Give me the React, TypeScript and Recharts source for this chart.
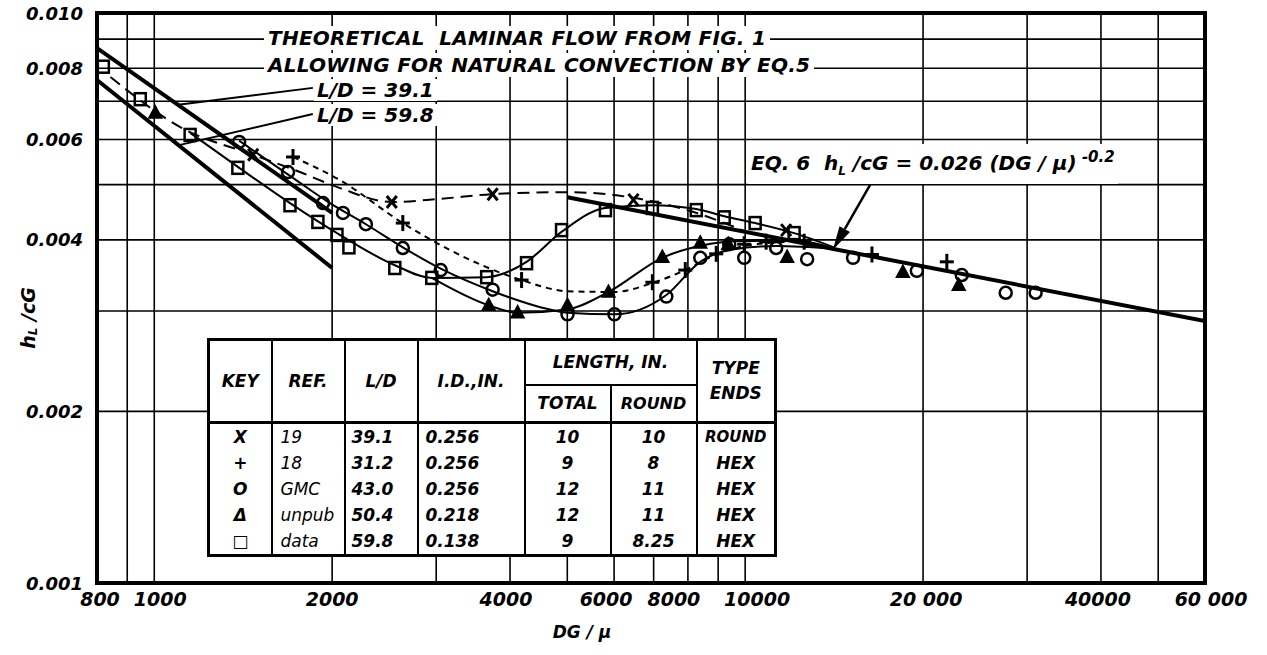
import React from 'react'
import { ComposedChart, Line, Scatter, XAxis, YAxis, CartesianGrid, ReferenceLine } from 'recharts'

// axis ticks (grid at every tick, label only where given)
const xTicks = [800, 900, 1000, 2000, 3000, 4000, 5000, 6000, 7000, 8000, 9000, 10000, 20000, 30000, 40000, 50000, 60000]
const xLabels = ['800', '', '1000', '2000', '', '4000', '', '6000', '', '8000', '', '10000', '20 000', '', '40000', '', '60 000']
const yTicks = [0.001, 0.002, 0.003, 0.004, 0.005, 0.006, 0.007, 0.008, 0.009, 0.01]
const yLabels = ['0.001', '0.002', '', '0.004', '', '0.006', '', '0.008', '', '0.010']

// measured points [DG/mu, hL/cG]
const crossPts = [[1470, 0.00564], [2523, 0.00466], [3738, 0.00481], [6470, 0.0047], [11730, 0.00416]]
const plusPts = [[1717, 0.00559], [2634, 0.00428], [4184, 0.0034], [6965, 0.00337], [7918, 0.00354], [8933, 0.00378], [9962, 0.00393], [10851, 0.00397], [12584, 0.00397], [16389, 0.00377], [21940, 0.00366]]
const circlePts = [[1392, 0.00594], [1684, 0.00526], [1930, 0.00464], [2086, 0.00446], [2281, 0.00426], [2634, 0.00387], [3053, 0.00354], [3738, 0.00327], [5004, 0.00296], [6008, 0.00296], [7355, 0.00318], [8395, 0.00372], [9397, 0.00393], [9962, 0.00372], [11284, 0.00387], [12731, 0.0037], [15224, 0.00372], [19521, 0.00353], [23256, 0.00347], [27600, 0.00323], [31010, 0.00323]]
const trianglePts = [[1004, 0.00668], [3681, 0.00307], [4120, 0.00298], [5004, 0.00307], [5870, 0.00324], [7241, 0.00373], [8395, 0.00395], [9361, 0.00393], [11776, 0.00373], [18487, 0.00351], [22985, 0.00333]]
const squarePts = [[820, 0.00805], [947, 0.00706], [1150, 0.00611], [1385, 0.00535], [1697, 0.0046], [1892, 0.0043], [2038, 0.00408], [2135, 0.00388], [2553, 0.00357], [2949, 0.00343], [3652, 0.00344], [4266, 0.00364], [4889, 0.00416], [5801, 0.00451], [6965, 0.00455], [8265, 0.00451], [9216, 0.00438], [10396, 0.00428], [12101, 0.00411]]

// faired curves
const theo391 = [[800, 0.00868], [2000, 0.00446]]
const theo598 = [[800, 0.00763], [2000, 0.00357]]
const eq6Line = [[5000, 0.00475], [60000, 0.00288]]
const crossCurve = [[843, 0.00772], [1115, 0.00628], [1470, 0.00564], [1764, 0.00526], [2062, 0.00493], [2523, 0.00466], [3042, 0.00472], [3738, 0.00481], [5004, 0.00485], [6470, 0.00474], [8043, 0.0045], [10000, 0.00414]]
const plusCurve = [[1717, 0.00559], [2062, 0.00509], [2634, 0.00428], [3162, 0.00384], [4184, 0.0034], [5004, 0.00325], [6008, 0.00324], [6965, 0.00336], [7918, 0.00354], [8933, 0.00377], [9962, 0.0039], [11866, 0.00397]]
const circleCurve = [[1392, 0.00597], [1697, 0.00518], [1983, 0.00464], [2281, 0.00426], [2634, 0.00388], [3053, 0.00356], [3738, 0.00325], [4487, 0.00305], [5004, 0.00298], [6008, 0.00296], [7355, 0.0032], [8395, 0.00366], [9397, 0.00384], [11284, 0.0039], [14140, 0.00386]]
const triangleCurve = [[2949, 0.00343], [3681, 0.00307], [4120, 0.00298], [5004, 0.00302], [5870, 0.00324], [7241, 0.00372], [8363, 0.0039], [9962, 0.00398], [12340, 0.00398], [14140, 0.00386]]
const squareCurve = [[1150, 0.00616], [1385, 0.00537], [1697, 0.00464], [2038, 0.00411], [2553, 0.00361], [2949, 0.00343], [3652, 0.00344], [4266, 0.00366], [4889, 0.00413], [5801, 0.00455], [6965, 0.0046], [8265, 0.00453], [9216, 0.0044], [10396, 0.00428], [12101, 0.00411], [14140, 0.00388]]

// leaders
const lead391 = [[1855, 0.00739], [1098, 0.0069]]
const lead598 = [[1855, 0.00665], [1106, 0.00587]]
const eqArrow = [[16711, 0.00524], [14070, 0.00384]]

// table
const tKey = ['X', '+', 'O', 'Δ', '□']
const tRef = ['19', '18', 'GMC', 'unpub', 'data']
const tLD = ['39.1', '31.2', '43.0', '50.4', '59.8']
const tID = ['0.256', '0.256', '0.256', '0.218', '0.138']
const tTotal = ['10', '9', '12', '12', '9']
const tRound = ['10', '8', '11', '11', '8.25']
const tEnds = ['ROUND', 'HEX', 'HEX', 'HEX', 'HEX']

const pts = (a: number[][]) => a.map(([x, y]) => ({ x, y }))

const FONT = '"DejaVu Sans", sans-serif'

// hand-lettered labels sit a little off their grid lines
const xLabelShift = [3, 0, 6, 0, 0, -4, 0, -8, 0, -14, 0, 12, 3, 0, -3, 0, 6]

const XTick = ({ x, y, payload }: any) => {
  const i = xTicks.indexOf(payload.value)
  const t = xLabels[i]
  if (!t) return <g />
  return (
    <text x={x + xLabelShift[i]} y={y + 16} textAnchor="middle" dominantBaseline="central"
      style={{ fontFamily: FONT, fontWeight: 'bold', fontStyle: 'italic', fontSize: 19 }} fill="#000">{t}</text>
  )
}

const YTick = ({ x, y, payload }: any) => {
  const i = yTicks.findIndex((v) => Math.abs(v - payload.value) < 1e-9)
  const t = yLabels[i]
  if (!t) return <g />
  return (
    <text x={x - 14} y={y} textAnchor="end" dominantBaseline="central"
      style={{ fontFamily: FONT, fontWeight: 'bold', fontStyle: 'italic', fontSize: 18 }} fill="#000">{t}</text>
  )
}

const Circ = ({ cx, cy }: any) => <circle cx={cx} cy={cy} r={6} fill="none" stroke="#000" strokeWidth={2.5} />
const Sq = ({ cx, cy }: any) => <rect x={cx - 5.5} y={cy - 6} width={11} height={12} fill="none" stroke="#000" strokeWidth={2.5} />
const Tri = ({ cx, cy }: any) => (
  <polygon points={`${cx},${cy - 7} ${cx - 6.5},${cy + 5} ${cx + 6.5},${cy + 5}`} fill="#000" stroke="#000" strokeWidth={1.5} />
)
const Cross = ({ cx, cy }: any) => (
  <g stroke="#000" strokeWidth={3}>
    <line x1={cx - 5} y1={cy - 6} x2={cx + 5} y2={cy + 6} />
    <line x1={cx + 5} y1={cy - 6} x2={cx - 5} y2={cy + 6} />
  </g>
)
const Plus = ({ cx, cy }: any) => (
  <g stroke="#000" strokeWidth={3}>
    <line x1={cx - 7} y1={cy} x2={cx + 7} y2={cy} />
    <line x1={cx} y1={cy - 8} x2={cx} y2={cy + 8} />
  </g>
)

const Arrow = ({ x1, y1, x2, y2 }: any) => {
  const dx = x2 - x1
  const dy = y2 - y1
  const L = Math.hypot(dx, dy) || 1
  const ux = dx / L
  const uy = dy / L
  const bx = x2 - ux * 24
  const by = y2 - uy * 24
  return (
    <g>
      <line x1={x1} y1={y1} x2={bx} y2={by} stroke="#000" strokeWidth={2.5} />
      <polygon points={`${x2},${y2} ${bx - uy * 6},${by + ux * 6} ${bx + uy * 6},${by - ux * 6}`} fill="#000" />
    </g>
  )
}

const txt: React.CSSProperties = {
  position: 'absolute', fontFamily: FONT, fontWeight: 'bold', fontStyle: 'italic',
  whiteSpace: 'pre', background: '#fff', color: '#000',
}

const cell: React.CSSProperties = { borderLeft: '2.5px solid #000', borderRight: '2.5px solid #000', padding: 0, height: 26 }
const head: React.CSSProperties = { border: '2.5px solid #000', borderBottom: '3.5px solid #000', padding: 0 }

export default function App() {
  return (
    <div style={{ position: 'absolute', left: 0, top: 0, width: 1267, height: 655, background: '#fff', fontFamily: FONT }}>
      <ComposedChart width={1267} height={655} margin={{ top: 13, right: 62, bottom: 32, left: 17 }}>
        <CartesianGrid stroke="#000" strokeWidth={1.6} />
        <XAxis dataKey="x" type="number" scale="log" domain={[800, 60000]} ticks={xTicks}
          axisLine={false} tickLine={false} tickSize={0} tickMargin={0} height={40} tick={<XTick />} interval={0} allowDataOverflow />
        <YAxis dataKey="y" type="number" scale="log" domain={[0.001, 0.01]} ticks={yTicks}
          axisLine={false} tickLine={false} tickSize={0} tickMargin={0} width={80} tick={<YTick />} interval={0} allowDataOverflow />

        <Line data={pts(theo391)} dataKey="y" type="linear" stroke="#000" strokeWidth={4} dot={false} isAnimationActive={false} />
        <Line data={pts(theo598)} dataKey="y" type="linear" stroke="#000" strokeWidth={4} dot={false} isAnimationActive={false} />
        <Line data={pts(eq6Line)} dataKey="y" type="linear" stroke="#000" strokeWidth={4} dot={false} isAnimationActive={false} />
        <Line data={pts(crossCurve)} dataKey="y" type="monotone" stroke="#000" strokeWidth={2} strokeDasharray="12 7" dot={false} isAnimationActive={false} />
        <Line data={pts(plusCurve)} dataKey="y" type="monotone" stroke="#000" strokeWidth={2} strokeDasharray="6 5" dot={false} isAnimationActive={false} />
        <Line data={pts(circleCurve)} dataKey="y" type="monotone" stroke="#000" strokeWidth={2} dot={false} isAnimationActive={false} />
        <Line data={pts(triangleCurve)} dataKey="y" type="monotone" stroke="#000" strokeWidth={2} dot={false} isAnimationActive={false} />
        <Line data={pts(squareCurve)} dataKey="y" type="monotone" stroke="#000" strokeWidth={2} dot={false} isAnimationActive={false} />

        <ReferenceLine segment={pts(lead391)} stroke="#000" strokeWidth={2} />
        <ReferenceLine segment={pts(lead598)} stroke="#000" strokeWidth={2} />
        <ReferenceLine segment={pts(eqArrow)} stroke="#000" strokeWidth={2.5} shape={(p: any) => <Arrow {...p} />} />

        <Scatter data={pts(crossPts)} dataKey="y" shape={<Cross />} isAnimationActive={false} />
        <Scatter data={pts(plusPts)} dataKey="y" shape={<Plus />} isAnimationActive={false} />
        <Scatter data={pts(circlePts)} dataKey="y" shape={<Circ />} isAnimationActive={false} />
        <Scatter data={pts(trianglePts)} dataKey="y" shape={<Tri />} isAnimationActive={false} />
        <Scatter data={pts(squarePts)} dataKey="y" shape={<Sq />} isAnimationActive={false} />
      </ComposedChart>

      <svg width={1267} height={655} style={{ position: 'absolute', left: 0, top: 0, pointerEvents: 'none' }}>
        <rect x={97} y={13} width={1108} height={570} fill="none" stroke="#000" strokeWidth={4} />
        <text transform="translate(28,318) rotate(-90)" textAnchor="middle" dominantBaseline="central"
          style={{ fontFamily: FONT, fontWeight: 'bold', fontStyle: 'italic', fontSize: 19 }}>
          h<tspan fontSize={12} dy={5}>L</tspan><tspan dy={-5}> /cG</tspan>
        </text>
        <text x={582} y={632} textAnchor="middle" dominantBaseline="central"
          style={{ fontFamily: FONT, fontWeight: 'bold', fontStyle: 'italic', fontSize: 17 }}>DG / μ</text>
      </svg>

      <div style={{ ...txt, left: 264, top: 26, fontSize: 20, lineHeight: '24px', padding: '0 4px', letterSpacing: 0.25 }}>THEORETICAL  LAMINAR FLOW FROM FIG. 1</div>
      <div style={{ ...txt, left: 264, top: 53, fontSize: 20, lineHeight: '24px', padding: '0 4px', letterSpacing: 0.25 }}>ALLOWING FOR NATURAL CONVECTION BY EQ.5</div>
      <div style={{ ...txt, left: 314, top: 79, fontSize: 20, lineHeight: '22px', padding: '0 3px' }}>L/D = 39.1</div>
      <div style={{ ...txt, left: 314, top: 104, fontSize: 20, lineHeight: '22px', padding: '0 3px' }}>L/D = 59.8</div>
      <div style={{ ...txt, left: 748, top: 144, fontSize: 20, lineHeight: '26px', padding: '0 3px' }}>
        EQ. 6  h<sub style={{ fontSize: 12 }}>L</sub> /cG = 0.026 (DG / μ)<sup style={{ fontSize: 15 }}> -0.2</sup>
      </div>

      <table style={{
        position: 'absolute', left: 207, top: 338, width: 567, height: 217, borderCollapse: 'collapse',
        background: '#fff', border: '3.5px solid #000', tableLayout: 'fixed', fontFamily: FONT,
        fontWeight: 'bold', fontStyle: 'italic', fontSize: 17, color: '#000',
      }}>
        <colgroup>
          <col style={{ width: 63 }} /><col style={{ width: 73 }} /><col style={{ width: 73 }} /><col style={{ width: 107 }} />
          <col style={{ width: 86 }} /><col style={{ width: 86 }} /><col style={{ width: 79 }} />
        </colgroup>
        <thead>
          <tr style={{ height: 45 }}>
            <th rowSpan={2} style={head}>KEY</th>
            <th rowSpan={2} style={head}>REF.</th>
            <th rowSpan={2} style={head}>L/D</th>
            <th rowSpan={2} style={head}>I.D.,IN.</th>
            <th colSpan={2} style={{ border: '2.5px solid #000', padding: 0 }}>LENGTH, IN.</th>
            <th rowSpan={2} style={{ ...head, lineHeight: '25px' }}>TYPE<br />ENDS</th>
          </tr>
          <tr style={{ height: 38 }}>
            <th style={head}>TOTAL</th>
            <th style={{ ...head, fontSize: 16 }}>ROUND</th>
          </tr>
        </thead>
        <tbody>
          {tKey.map((k, i) => (
            <tr key={i}>
              <td style={{ ...cell, textAlign: 'center' }}>{k}</td>
              <td style={{ ...cell, textAlign: 'left', paddingLeft: 8, fontWeight: 'normal' }}>{tRef[i]}</td>
              <td style={{ ...cell, textAlign: 'left', paddingLeft: 6 }}>{tLD[i]}</td>
              <td style={{ ...cell, textAlign: 'left', paddingLeft: 7 }}>{tID[i]}</td>
              <td style={{ ...cell, textAlign: 'center' }}>{tTotal[i]}</td>
              <td style={{ ...cell, textAlign: 'center' }}>{tRound[i]}</td>
              <td style={{ ...cell, textAlign: 'center', fontSize: i === 0 ? 15 : 17 }}>{tEnds[i]}</td>
            </tr>
          ))}
        </tbody>
      </table>
    </div>
  )
}
